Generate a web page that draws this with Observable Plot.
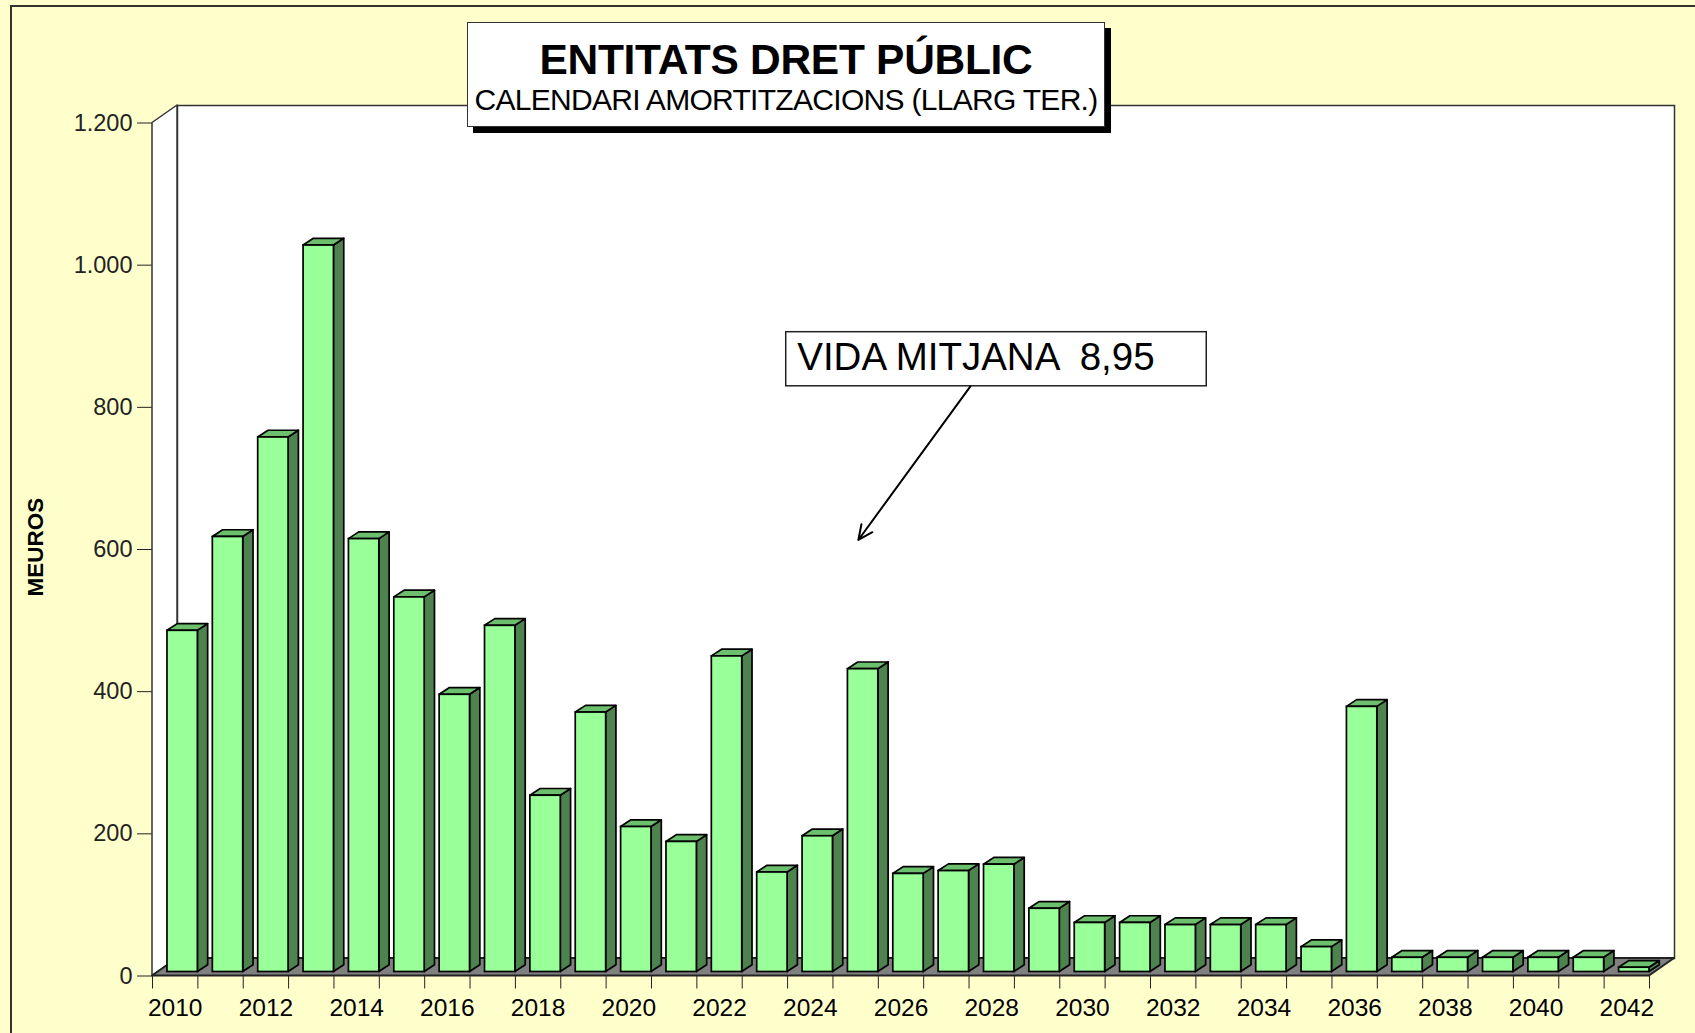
<!DOCTYPE html>
<html><head><meta charset="utf-8">
<script src="https://cdn.jsdelivr.net/npm/d3@7"></script>
<script src="https://cdn.jsdelivr.net/npm/@observablehq/plot@0.6"></script>
<style>
html,body{margin:0;padding:0;background:#FFFFCC;overflow:hidden}
#wrap{position:relative;width:1695px;height:1033px;font-family:"Liberation Sans",Arial,sans-serif;overflow:hidden}
#border{position:absolute;left:10px;top:5px;width:1800px;height:1200px;border-left:2px solid #333;border-top:2px solid #333;box-sizing:border-box}
#chart{position:absolute;left:0;top:0}
#title{position:absolute;left:467px;top:22px;width:636px;height:103px;background:#fff;border:1.5px solid #333;box-shadow:6px 6px 0 #000;text-align:center;color:#000}
#title .t1{position:absolute;left:0;right:0;top:16px;font-size:42.5px;line-height:42px;font-weight:bold;white-space:nowrap;letter-spacing:-0.3px}
#title .t2{position:absolute;left:0;right:0;top:62px;font-size:30px;line-height:30px;white-space:nowrap;letter-spacing:-0.7px}
#ylabel{position:absolute;left:36px;top:547px;transform:translate(-50%,-50%) rotate(-90deg);font-size:22.5px;font-weight:bold;white-space:nowrap;color:#000}
</style>
</head><body>
<div id="wrap">
  <div id="border"></div>
  <div id="chart"></div>
  <div id="title"><div class="t1">ENTITATS DRET PÚBLIC</div><div class="t2">CALENDARI AMORTITZACIONS (LLARG TER.)</div></div>
  <div id="ylabel">MEUROS</div>
</div>
<script>
// ---- data ----
const years = [2010,2011,2012,2013,2014,2015,2016,2017,2018,2019,2020,2021,2022,2023,2024,2025,2026,2027,2028,2029,2030,2031,2032,2033,2034,2035,2036,2037,2038,2039,2040,2041,2042];
const amort = [480,612,752,1022,609,527,390,487,248,365,204,183,444,140,191,426,138,142,151,89,69,69,66,66,66,35,373,20,20,20,20,20,6];
const yTicks = [0,200,400,600,800,1000,1200];
const xLabelYears = [2010,2012,2014,2016,2018,2020,2022,2024,2026,2028,2030,2032,2034,2036,2038,2040,2042];
const noteText = ["VIDA MITJANA  8,95"];
const noteBox = [{x1: 2023.47, x2: 2032.74, y1: 829.6, y2: 905.7}];
const noteArrow = [{x1: 2027.53, y1: 829.6, x2: 2025.06, y2: 613.4}];

// ---- layout ----
const W = 1695, H = 1033;
const mL = 152, mR = 46, mT = 122.5, mB = 57.5;
const xDomain = [years[0] - 0.5, years[years.length - 1] + 0.5];
const yDomain = [0, 1200];
const pxPerYear = (W - mL - mR) / (xDomain[1] - xDomain[0]);
const pxPerUnit = (H - mT - mB) / (yDomain[1] - yDomain[0]);
// 3D depth (pixels) converted to data units
const wallDX = 25 / pxPerYear, wallDY = 17.5 / pxPerUnit;
const barDX = 10.3 / pxPerYear, barDY = 6.7 / pxPerUnit;
const barLeft = 0.17, barRight = 0.5, barLift = -4;

const bars = years.map((year, i) => ({year, value: amort[i]}));
const sideData = bars.flatMap(d => [
  {year: d.year, x: d.year + barRight, y1: 0, y2: d.value},
  {year: d.year, x: d.year + barRight + barDX, y1: barDY, y2: d.value + barDY}
]);
const topData = bars.flatMap(d => [
  {year: d.year, y: d.value, x1: d.year - barLeft, x2: d.year + barRight},
  {year: d.year, y: d.value + barDY, x1: d.year - barLeft + barDX, x2: d.year + barRight + barDX}
]);
const sideWall = [
  {x: xDomain[0], y1: yDomain[0], y2: yDomain[1]},
  {x: xDomain[0] + wallDX, y1: yDomain[0] + wallDY, y2: yDomain[1] + wallDY}
];
const floor = [
  {y: yDomain[0], x1: xDomain[0], x2: xDomain[1]},
  {y: yDomain[0] + wallDY, x1: xDomain[0] + wallDX, x2: xDomain[1] + wallDX}
];
const boundaries = years.map(y => y - 0.5).concat([years[years.length - 1] + 0.5]);
const fmt = d3.formatLocale({decimal: ",", thousands: ".", grouping: [3], currency: ["", "€"]}).format(",d");

const chart = Plot.plot({
  width: W, height: H,
  marginLeft: mL, marginRight: mR, marginTop: mT, marginBottom: mB,
  style: {background: "transparent", fontFamily: "Liberation Sans, Arial, sans-serif", fontSize: "23.5px", color: "#222", overflow: "visible"},
  x: {domain: xDomain, ticks: boundaries, tickFormat: () => "", tickSize: 13, label: null},
  y: {domain: yDomain, ticks: yTicks, tickFormat: fmt, tickSize: 15, tickPadding: 5, label: null, line: true},
  marks: [
    Plot.frame({fill: "white", stroke: "#333", strokeWidth: 1.5, dx: 25, dy: -17.5}),
    Plot.areaY(sideWall, {x: "x", y1: "y1", y2: "y2", fill: "white", stroke: "#333", strokeWidth: 1.5}),
    Plot.areaX(floor, {y: "y", x1: "x1", x2: "x2", fill: "#808080", stroke: "#222", strokeWidth: 2}),
    Plot.areaY(sideData, {x: "x", y1: "y1", y2: "y2", z: "year", fill: "#4E824E", stroke: "#000", strokeWidth: 1.7, strokeLinejoin: "round", dy: barLift}),
    Plot.areaX(topData, {y: "y", x1: "x1", x2: "x2", z: "year", fill: "#6CBF6C", stroke: "#000", strokeWidth: 1.7, strokeLinejoin: "round", dy: barLift}),
    Plot.rect(bars, {x1: d => d.year - barLeft, x2: d => d.year + barRight, y1: 0, y2: "value", fill: "#99FF99", stroke: "#000", strokeWidth: 1.7, dy: barLift}),
    Plot.text(xLabelYears, {x: d => d, y: 0, text: d => String(d), dy: 32, fontSize: 24.5, fill: "#000"}),
    Plot.rect(noteBox, {x1: "x1", x2: "x2", y1: "y1", y2: "y2", fill: "white", stroke: "#222", strokeWidth: 1.5}),
    Plot.text(noteText, {x: noteBox[0].x1, y: (noteBox[0].y1 + noteBox[0].y2) / 2, text: d => d, textAnchor: "start", dx: 11, dy: -2, fontSize: 38.5, fill: "#000"}),
    Plot.arrow(noteArrow, {x1: "x1", y1: "y1", x2: "x2", y2: "y2", stroke: "#000", strokeWidth: 2, headLength: 12, headAngle: 50})
  ]
});
document.getElementById("chart").appendChild(chart);
</script>
</body></html>
